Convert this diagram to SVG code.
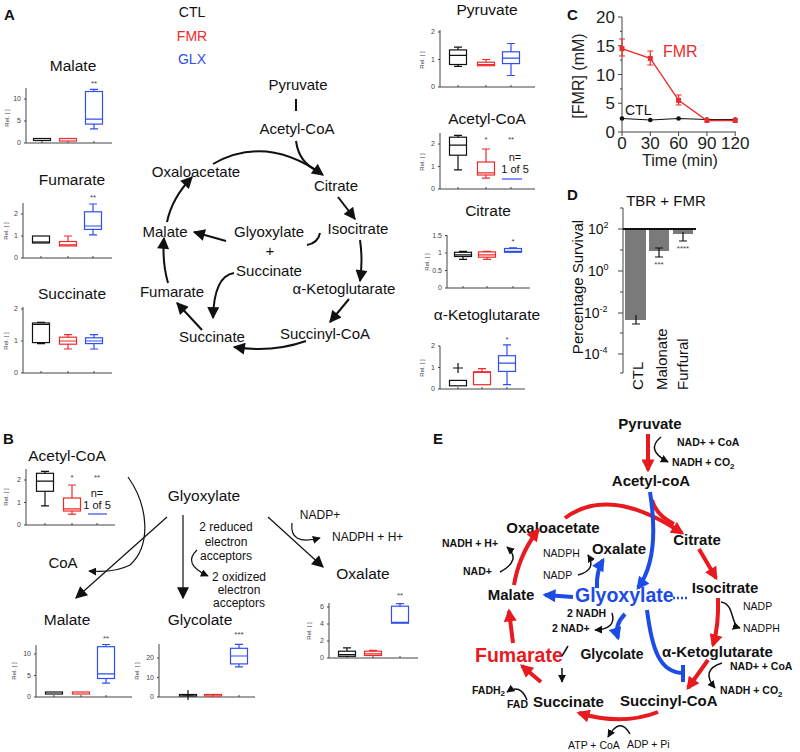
<svg xmlns="http://www.w3.org/2000/svg" width="800" height="752" viewBox="0 0 800 752">
<defs>
<style>
text{font-family:"Liberation Sans",Arial,sans-serif;fill:#111}
.ax{stroke:#444;stroke-width:1;fill:none}
.k{stroke:#111;stroke-width:1.2;fill:none}
.r{stroke:#ee2a2a;stroke-width:1.2;fill:none}
.b{stroke:#2f4ff0;stroke-width:1.2;fill:none}
.tk{font-size:7px;fill:#444;text-anchor:end}
.rel{font-size:6px;fill:#444;text-anchor:middle}
.ttl{font-size:15.5px;text-anchor:middle}
.sig{font-size:8px;fill:#444;text-anchor:middle}
.cyc{font-size:15px;text-anchor:middle}
.lab{font-size:15px;font-weight:bold}
.ca{stroke:#111;stroke-width:2;fill:none}
.tb{stroke:#111;stroke-width:1.2;fill:none}
.er{stroke:#e8191f;stroke-width:4;fill:none}
.eb{stroke:#1d4be6;stroke-width:4;fill:none}
.ek{stroke:#111;stroke-width:1.5;fill:none}
.eT{font-weight:bold;font-size:15px}
.es{font-weight:bold;font-size:10.5px}
.en{font-size:10.5px}
.sm{font-size:12px}
.ct{font-size:17px;fill:#222}
</style>
<marker id="mA" viewBox="0 0 10 10" refX="9" refY="5" markerWidth="13" markerHeight="12" markerUnits="userSpaceOnUse" orient="auto"><path d="M0,0L10,5L0,10z" fill="#111"/></marker>
<marker id="mB" viewBox="0 0 10 10" refX="9" refY="5" markerWidth="14" markerHeight="12" markerUnits="userSpaceOnUse" orient="auto"><path d="M0,0L10,5L0,10z" fill="#111"/></marker>
<marker id="mS" viewBox="0 0 10 10" refX="9" refY="5" markerWidth="8" markerHeight="8" markerUnits="userSpaceOnUse" orient="auto"><path d="M0,0L10,5L0,10z" fill="#111"/></marker>
<marker id="mR" viewBox="0 0 10 10" refX="8" refY="5" markerWidth="14" markerHeight="13" markerUnits="userSpaceOnUse" orient="auto"><path d="M0,0L10,5L0,10z" fill="#e8191f"/></marker>
<marker id="mBl" viewBox="0 0 10 10" refX="8" refY="5" markerWidth="14" markerHeight="13" markerUnits="userSpaceOnUse" orient="auto"><path d="M0,0L10,5L0,10z" fill="#1d4be6"/></marker>
</defs>
<rect width="800" height="752" fill="#fff"/>

<!-- Panel labels -->
<text x="4" y="20" class="lab">A</text>
<text x="3" y="444" class="lab">B</text>
<text x="567" y="20" class="lab">C</text>
<text x="567" y="200" class="lab">D</text>
<text x="433" y="444" class="lab">E</text>

<!-- Legend -->
<g id="legend" text-anchor="middle">
<text x="192" y="17" style="font-size:14px">CTL</text>
<text x="192" y="41" style="font-size:14px;fill:#ee2a2a">FMR</text>
<text x="192" y="64" style="font-size:14px;fill:#2f4ff0">GLX</text>
</g>

<!-- Panel A left plots -->
<g id="plotA-malate">
<text x="73" y="71" class="ttl">Malate</text>
<path class="ax" d="M26 88V143H112M24 143H26M24 121H26M24 99H26M42 143V141M68 143V141M94 143V141"/>
<text x="21" y="145" class="tk">0</text><text x="21" y="123" class="tk">5</text><text x="21" y="101" class="tk">10</text>
<text class="rel" transform="translate(9,118) rotate(-90)">Rel. [ ]</text>
<rect class="k" x="33.5" y="138.5" width="17" height="2"/>
<rect class="r" x="59.5" y="138.5" width="17" height="2.5"/>
<path class="b" d="M94 89.3V91.5M94 124.1V128.9M90 89.3H98M90 128.9H98M85.5 119.2H102.5"/>
<rect class="b" x="85.5" y="91.5" width="17" height="32.6"/>
<text x="94" y="86" class="sig">**</text>
</g>
<g id="plotA-fumarate">
<text x="72" y="185" class="ttl">Fumarate</text>
<path class="ax" d="M23 203V258H112M21 258H23M21 236H23M21 214H23M41 258V256M68 258V256M93 258V256"/>
<text x="18" y="260" class="tk">0</text><text x="18" y="238" class="tk">1</text><text x="18" y="216" class="tk">2</text>
<text class="rel" transform="translate(8,231) rotate(-90)">Rel. [ ]</text>
<rect class="k" x="32.5" y="236" width="17" height="7"/>
<path class="k" d="M32.5 242H49.5"/>
<path class="r" d="M68 236V241.5M64 236H72M59.5 244.8H76.5"/>
<rect class="r" x="59.5" y="241.5" width="17" height="4.4"/>
<path class="b" d="M93 204V211.8M93 229.4V234.9M89 204H97M89 234.9H97M84.5 226H101.5"/>
<rect class="b" x="84.5" y="211.8" width="17" height="17.6"/>
<text x="93" y="200" class="sig">**</text>
</g>
<g id="plotA-succinate">
<text x="72" y="299" class="ttl">Succinate</text>
<path class="ax" d="M23 307V373H112M21 373H23M21 341H23M21 309H23M41 373V371M68 373V371M94 373V371"/>
<text x="18" y="375" class="tk">0</text><text x="18" y="343" class="tk">1</text><text x="18" y="311" class="tk">2</text>
<text class="rel" transform="translate(8,341) rotate(-90)">Rel. [ ]</text>
<rect class="k" x="32.5" y="323" width="17" height="19.6"/>
<path class="k" d="M32.5 324.5H49.5M37 343.6H45M37 322.4H45"/>
<path class="r" d="M68 334.6V337.2M68 344.2V349M64 334.6H72M64 349H72M59.5 341H76.5"/>
<rect class="r" x="59.5" y="337.2" width="17" height="7"/>
<path class="b" d="M94 334.6V337.8M94 343.6V349M90 334.6H98M90 349H98M85.5 341H102.5"/>
<rect class="b" x="85.5" y="337.8" width="17" height="5.8"/>
</g>

<!-- Panel A right plots -->
<g id="plotA-pyruvate">
<text x="487" y="15" class="ttl">Pyruvate</text>
<path class="ax" d="M440 30V87H535M438 87H440M438 59.5H440M438 32H440M458 87V85M486 87V85M511 87V85"/>
<text x="435" y="89" class="tk">0</text><text x="435" y="61.5" class="tk">1</text><text x="435" y="34" class="tk">2</text>
<text class="rel" transform="translate(424,60) rotate(-90)">Rel. [ ]</text>
<path class="k" d="M458 47.1V49.9M458 64.5V66.4M454 47.1H462M454 66.4H462M449.5 55.4H466.5"/>
<rect class="k" x="449.5" y="49.9" width="17" height="14.6"/>
<path class="r" d="M486 59.5V62.2M482 59.5H490M477.5 64.5H494.5"/>
<rect class="r" x="477.5" y="62.2" width="17" height="3.5"/>
<path class="b" d="M511 43.5V51.8M511 63.6V75.5M507 43.5H515M507 75.5H515M502.5 58.1H519.5"/>
<rect class="b" x="502.5" y="51.8" width="17" height="11.8"/>
</g>
<g id="plotA-acetylcoa">
<text x="487" y="124" class="ttl">Acetyl-CoA</text>
<path class="ax" d="M440 133V189H535M438 189H440M438 166.5H440M438 144H440M458 189V187M486 189V187M511 189V187"/>
<text x="435" y="191" class="tk">0</text><text x="435" y="168.5" class="tk">1</text><text x="435" y="146" class="tk">2</text>
<text class="rel" transform="translate(424,162) rotate(-90)">Rel. [ ]</text>
<path class="k" d="M458 135.4V137.2M458 155.2V169.9M454 135.4H462M454 169.9H462M449.5 145.1H466.5"/>
<rect class="k" x="449.5" y="137.2" width="17" height="18"/>
<path class="r" d="M486 149V162M486 175V178.2M482 149H490M482 178.2H490M477.5 172.8H494.5"/>
<rect class="r" x="477.5" y="162" width="17" height="13"/>
<path class="b" d="M502 179H522"/>
<text x="486" y="142" class="sig">*</text><text x="511" y="142" class="sig">**</text>
<text x="515" y="161" style="font-size:11px" text-anchor="middle">n=</text>
<text x="515" y="173" style="font-size:11px" text-anchor="middle">1 of 5</text>
</g>
<g id="plotA-citrate">
<text x="488" y="216" class="ttl">Citrate</text>
<path class="ax" d="M447 235V288H530M445 288H447M445 270.5H447M445 253H447M445 235.5H447M463 288V286M487 288V286M513 288V286"/>
<text x="442" y="290" class="tk">0</text><text x="442" y="272.5" class="tk">0.5</text><text x="442" y="255" class="tk">1</text><text x="442" y="237.5" class="tk">1.5</text>
<text class="rel" transform="translate(429,262) rotate(-90)">Rel. [ ]</text>
<path class="k" d="M463 251.3V252.3M463 256.5V259.3M459 251.3H467M459 259.3H467M454.5 254.8H471.5"/>
<rect class="k" x="454.5" y="252.3" width="17" height="4.2"/>
<path class="r" d="M487 251.3V251.9M487 257.2V259.3M483 251.3H491M483 259.3H491M478.5 254.8H495.5"/>
<rect class="r" x="478.5" y="251.9" width="17" height="5.3"/>
<path class="b" d="M513 247.8V248.5M509 247.8H517M504.5 251.3H521.5"/>
<rect class="b" x="504.5" y="248.5" width="17" height="3.8"/>
<text x="513" y="244" class="sig">*</text>
</g>
<g id="plotA-akg">
<text x="487" y="320" class="ttl">α-Ketoglutarate</text>
<path class="ax" d="M440 346V389H525M438 389H440M438 367.5H440M438 346H440M458 389V387M482 389V387M507 389V387"/>
<text x="435" y="391" class="tk">0</text><text x="435" y="369.5" class="tk">1</text><text x="435" y="348" class="tk">2</text>
<text class="rel" transform="translate(424,368) rotate(-90)">Rel. [ ]</text>
<rect class="k" x="449.5" y="380.4" width="17" height="5.4"/>
<path class="k" d="M458 363V373M453 368H463"/>
<path class="r" d="M482 368.6V371.8M478 368.6H486M473.5 372.3H490.5"/>
<rect class="r" x="473.5" y="371.8" width="17" height="12.9"/>
<path class="b" d="M507 344.9V355.7M507 371.4V384.7M503 344.9H511M503 384.7H511M498.5 363.2H515.5"/>
<rect class="b" x="498.5" y="355.7" width="17" height="15.7"/>
<text x="507" y="342" class="sig">*</text>
</g>

<!-- Panel A cycle nodes -->
<g id="a-pyruvate"><text x="298" y="90" class="cyc">Pyruvate</text></g>
<g id="a-acetylcoa"><text x="297" y="134" class="cyc">Acetyl-CoA</text></g>
<g id="a-oxaloacetate"><text x="196" y="177" class="cyc">Oxaloacetate</text></g>
<g id="a-citrate"><text x="336" y="191" class="cyc">Citrate</text></g>
<g id="a-isocitrate"><text x="358" y="234" class="cyc">Isocitrate</text></g>
<g id="a-malate"><text x="165" y="237" class="cyc">Malate</text></g>
<g id="a-glyoxylate"><text x="269" y="237" class="cyc">Glyoxylate</text><text x="270" y="256" class="cyc">+</text><text x="269" y="276" class="cyc">Succinate</text></g>
<g id="a-akg"><text x="344" y="294" class="cyc">α-Ketoglutarate</text></g>
<g id="a-fumarate"><text x="172" y="297" class="cyc">Fumarate</text></g>
<g id="a-succinylcoa"><text x="325" y="339" class="cyc">Succinyl-CoA</text></g>
<g id="a-succinate"><text x="212" y="342" class="cyc">Succinate</text></g>

<g id="a-connectors">
<path class="ca" d="M296 99V111"/>
<path class="ca" d="M296 141Q299 163 318 171"/>
<path class="ca" d="M213 164Q266 134 323 175" marker-end="url(#mA)"/>
<path class="ca" d="M338 197L355 219" marker-end="url(#mA)"/>
<path class="ca" d="M360 240Q363 260 360 281" marker-end="url(#mA)"/>
<path class="ca" d="M349 299L330 322" marker-end="url(#mA)"/>
<path class="ca" d="M306 341Q272 353 234 347" marker-end="url(#mA)"/>
<path class="ca" d="M202 330L177 303" marker-end="url(#mA)"/>
<path class="ca" d="M168 283Q162 262 164 238" marker-end="url(#mA)"/>
<path class="ca" d="M167 222Q172 198 192 177" marker-end="url(#mA)"/>
<path class="ca" d="M226 241L194 232" marker-end="url(#mA)"/>
<path class="ca" d="M320 233Q318 243 307 245"/>
<path class="ca" d="M234 273Q214 276 213 318" marker-end="url(#mA)"/>
</g>

<!-- Panel C -->
<g id="panelC">
<path class="ax" d="M622 17V132H736M618 17H622M618 45.75H622M618 74.5H622M618 103.25H622M618 132H622M620 31.4H622M620 60.1H622M620 88.9H622M620 117.6H622M622 132V136M650.3 132V136M678.6 132V136M706.9 132V136M735.2 132V136"/>
<g text-anchor="end"><text x="615" y="23" class="ct">20</text><text x="615" y="52" class="ct">15</text><text x="615" y="80.5" class="ct">10</text><text x="615" y="109" class="ct">5</text><text x="615" y="138" class="ct">0</text></g>
<g text-anchor="middle"><text x="622" y="149" class="ct">0</text><text x="650.3" y="149" class="ct">30</text><text x="678.6" y="149" class="ct">60</text><text x="706.9" y="149" class="ct">90</text><text x="735.2" y="149" class="ct">120</text></g>
<text x="680" y="166" text-anchor="middle" style="font-size:16px;fill:#222">Time (min)</text>
<text transform="translate(584,76) rotate(-90)" text-anchor="middle" style="font-size:16px;fill:#222">[FMR] (mM)</text>
<polyline points="622,118.5 650.3,120 678.6,118.5 706.9,119.5 735.2,119.5" fill="none" stroke="#111" stroke-width="1.2"/>
<g fill="#111"><circle cx="622" cy="118.5" r="2.3"/><circle cx="650.3" cy="120" r="2.3"/><circle cx="678.6" cy="118.5" r="2.3"/><circle cx="706.9" cy="119.5" r="2.3"/><circle cx="735.2" cy="119.5" r="2.3"/></g>
<polyline points="622,48.6 650.3,58.4 678.6,100.4 706.9,120.5 735.2,120.5" fill="none" stroke="#ee2a2a" stroke-width="1.3"/>
<path d="M622 39V56M619 39H625M619 56H625M650.3 51V65M647.3 51H653.3M647.3 65H653.3M678.6 95V105M675.6 95H681.6M675.6 105H681.6" stroke="#ee2a2a" stroke-width="1.2" fill="none"/>
<g fill="#ee2a2a"><rect x="619.5" y="46.1" width="5" height="5"/><rect x="647.8" y="55.9" width="5" height="5"/><rect x="676.1" y="97.9" width="5" height="5"/><rect x="704.4" y="118" width="5" height="5"/><rect x="732.7" y="118" width="5" height="5"/></g>
<text x="663" y="57" style="font-size:16px;fill:#ee2a2a">FMR</text>
<text x="625" y="115" style="font-size:14px">CTL</text>
</g>

<!-- Panel D -->
<g id="panelD">
<text x="666" y="206" text-anchor="middle" style="font-size:15px">TBR + FMR</text>
<path class="ax" d="M623 208V373M618 229H623M618 271H623M618 313H623M618 354H623M620 208H623M620 250H623M620 292H623M620 333H623M620 373H623"/>
<g style="fill:#222">
<text x="588" y="234" style="font-size:14px">10<tspan dy="-6" style="font-size:9px">2</tspan></text>
<text x="588" y="276" style="font-size:14px">10<tspan dy="-6" style="font-size:9px">0</tspan></text>
<text x="584" y="318" style="font-size:14px">10<tspan dy="-6" style="font-size:9px">-2</tspan></text>
<text x="584" y="359" style="font-size:14px">10<tspan dy="-6" style="font-size:9px">-4</tspan></text>
</g>
<text transform="translate(583,287) rotate(-90)" text-anchor="middle" style="font-size:15px">Percentage Survival</text>
<g fill="#7a7a7a"><rect x="625" y="229" width="21" height="91"/><rect x="649" y="229" width="20" height="22"/><rect x="673" y="229" width="20" height="5"/></g>
<path d="M623 229H696" stroke="#111" stroke-width="2"/>
<path d="M636 315V324M632 324H640M659 248V257M655 248H663M655 257H663M683 232V241M679 241H687" stroke="#111" stroke-width="1.2" fill="none"/>
<text x="659" y="267" class="sig">***</text><text x="683" y="251" class="sig">****</text>
<text transform="translate(643,390) rotate(-90)" style="font-size:15px">CTL</text>
<text transform="translate(667,390) rotate(-90)" style="font-size:15px">Malonate</text>
<text transform="translate(688,390) rotate(-90)" style="font-size:15px">Furfural</text>
</g>

<!-- Panel B plots -->
<g id="plotB-acetylcoa">
<text x="67" y="461" class="ttl">Acetyl-CoA</text>
<path class="ax" d="M26 469V525H115M24 525H26M24 502.5H26M24 480H26M45 525V523M72 525V523M97 525V523"/>
<text x="21" y="527" class="tk">0</text><text x="21" y="504.5" class="tk">1</text><text x="21" y="482" class="tk">2</text>
<text class="rel" transform="translate(8,497) rotate(-90)">Rel. [ ]</text>
<path class="k" d="M45 471.4V473.3M45 491.3V505.9M41 471.4H49M41 505.9H49M36.5 481.1H53.5"/>
<rect class="k" x="36.5" y="473.3" width="17" height="18"/>
<path class="r" d="M72 485V498M72 511V514.2M68 485H76M68 514.2H76M63.5 508.8H80.5"/>
<rect class="r" x="63.5" y="498" width="17" height="13"/>
<path class="b" d="M88 514H107"/>
<text x="72" y="480" class="sig">*</text><text x="97" y="480" class="sig">**</text>
<text x="97" y="497" style="font-size:11px" text-anchor="middle">n=</text>
<text x="97" y="509" style="font-size:11px" text-anchor="middle">1 of 5</text>
</g>
<g id="plotB-malate">
<text x="67" y="625" class="ttl">Malate</text>
<path class="ax" d="M36 645V697H132M34 697H36M34 675.5H36M34 654H36M54 697V695M81 697V695M106 697V695"/>
<text x="31" y="699" class="tk">0</text><text x="31" y="677.5" class="tk">5</text><text x="31" y="656" class="tk">10</text>
<text class="rel" transform="translate(16,671) rotate(-90)">Rel. [ ]</text>
<rect class="k" x="45.5" y="692" width="17" height="2"/>
<rect class="r" x="72.5" y="692" width="17" height="2"/>
<path class="b" d="M106 644.5V646.7M106 678.5V683.2M102 644.5H110M102 683.2H110M97.5 673.8H114.5"/>
<rect class="b" x="97.5" y="646.7" width="17" height="31.8"/>
<text x="106" y="641" class="sig">**</text>
</g>
<g id="plotB-glycolate">
<text x="200" y="625" class="ttl">Glycolate</text>
<path class="ax" d="M159 644V697H255M157 697H159M157 677.5H159M157 658H159M188 697V695M213 697V695M239 697V695"/>
<text x="154" y="699" class="tk">0</text><text x="154" y="679.5" class="tk">10</text><text x="154" y="660" class="tk">20</text>
<text class="rel" transform="translate(139,671) rotate(-90)">Rel. [ ]</text>
<rect class="k" x="179.5" y="694.5" width="17" height="1.5"/>
<path class="k" d="M188 690V700M183 695H193"/>
<rect class="r" x="204.5" y="694.5" width="17" height="1.5"/>
<path class="b" d="M239 644.4V648.3M239 663.9V666.8M235 644.4H243M235 666.8H243M230.5 656H247.5"/>
<rect class="b" x="230.5" y="648.3" width="17" height="15.6"/>
<text x="239" y="637" class="sig">***</text>
</g>
<g id="plotB-oxalate">
<text x="363" y="579" class="ttl">Oxalate</text>
<path class="ax" d="M329 603V658H418M327 658H329M327 641H329M327 624H329M327 607H329M347 658V656M373 658V656M400 658V656"/>
<text x="324" y="660" class="tk">0</text><text x="324" y="643" class="tk">2</text><text x="324" y="626" class="tk">4</text><text x="324" y="609" class="tk">6</text>
<text class="rel" transform="translate(311,631) rotate(-90)">Rel. [ ]</text>
<path class="k" d="M347 647.8V651.2M343 647.8H351M338.5 654.6H355.5"/>
<rect class="k" x="338.5" y="651.2" width="17" height="5.1"/>
<path class="r" d="M373 650.4V651.2M369 650.4H377M364.5 653.8H381.5"/>
<rect class="r" x="364.5" y="651.2" width="17" height="4.3"/>
<path class="b" d="M400 603.6V606.2M396 603.6H404M391.5 622.3H408.5"/>
<rect class="b" x="391.5" y="606.2" width="17" height="17"/>
<text x="400" y="598" class="sig">**</text>
</g>

<!-- Panel B nodes -->
<g id="b-glyoxylate"><text x="204" y="501" class="ttl">Glyoxylate</text></g>
<g id="b-coa"><text x="63" y="568" style="font-size:15px" text-anchor="middle">CoA</text></g>
<g id="b-reduced" text-anchor="middle"><text x="226" y="531" class="sm">2 reduced</text><text x="226" y="546" class="sm">electron</text><text x="226" y="560" class="sm">acceptors</text></g>
<g id="b-oxidized" text-anchor="middle"><text x="239" y="581" class="sm">2 oxidized</text><text x="239" y="594" class="sm">electron</text><text x="239" y="607" class="sm">acceptors</text></g>
<g id="b-nadp"><text x="320" y="519" class="sm" text-anchor="middle">NADP+</text><text x="332" y="541" class="sm">NADPH + H+</text></g>

<g id="b-connectors">
<path class="tb" d="M167 517L76 598" marker-end="url(#mB)"/>
<path class="tb" d="M128 477C148 505 152 545 130 565Q115 573 89 571" marker-end="url(#mS)"/>
<path class="tb" d="M183 515V598" marker-end="url(#mB)"/>
<path class="tb" d="M197 550Q182 564 208 576" marker-end="url(#mS)"/>
<path class="tb" d="M268 517L323 567" marker-end="url(#mB)"/>
<path class="tb" d="M292 523Q289 546 320 538" marker-end="url(#mS)"/>
</g>

<!-- Panel E nodes -->
<g id="e-pyruvate"><text x="650" y="429" class="eT" text-anchor="middle">Pyruvate</text></g>
<g id="e-nadcoa1"><text x="677" y="446" class="es">NAD+ + CoA</text><text x="672" y="466" class="es">NADH + CO<tspan dy="3" style="font-size:8px">2</tspan></text></g>
<g id="e-acetylcoa"><text x="651" y="486" class="eT" text-anchor="middle">Acetyl-coA</text></g>
<g id="e-oxaloacetate"><text x="553" y="533" class="eT" text-anchor="middle">Oxaloacetate</text></g>
<g id="e-citrate"><text x="697" y="545" class="eT" text-anchor="middle">Citrate</text></g>
<g id="e-oxalate"><text x="619" y="554" class="eT" text-anchor="middle">Oxalate</text><text x="543" y="557" class="en">NADPH</text><text x="543" y="579" class="en">NADP</text></g>
<g id="e-nadh1"><text x="442" y="547" class="es">NADH + H+</text><text x="463" y="575" class="es">NAD+</text></g>
<g id="e-malate"><text x="511" y="600" class="eT" text-anchor="middle">Malate</text></g>
<g id="e-glyoxylate"><text x="575" y="602" style="font-weight:bold;font-size:19.5px;fill:#1d4be6">Glyoxylate</text></g>
<g id="e-isocitrate"><text x="725" y="593" class="eT" text-anchor="middle">Isocitrate</text><text x="743" y="610" class="en">NADP</text><text x="743" y="632" class="en">NADPH</text></g>
<g id="e-nadh2"><text x="567" y="617" class="es">2 NADH</text><text x="552" y="632" class="es">2 NAD+</text></g>
<g id="e-glycolate"><text x="612" y="659" style="font-weight:bold;font-size:14px" text-anchor="middle">Glycolate</text></g>
<g id="e-akg"><text x="662" y="657" class="eT">α-Ketoglutarate</text><text x="730" y="670" class="es">NAD+ + CoA</text><text x="720" y="694" class="es">NADH + CO<tspan dy="3" style="font-size:8px">2</tspan></text></g>
<g id="e-fumarate"><text x="475" y="662" style="font-weight:bold;font-size:19.5px;fill:#e8191f">Fumarate</text></g>
<g id="e-fad"><text x="472" y="694" class="es">FADH<tspan dy="2" style="font-size:8px">2</tspan></text><text x="507" y="708" class="es">FAD</text></g>
<g id="e-succinate"><text x="533" y="707" class="eT">Succinate</text></g>
<g id="e-succinylcoa"><text x="620" y="706" class="eT">Succinyl-CoA</text></g>
<g id="e-atp"><text x="568" y="749" class="en">ATP + CoA</text><text x="627" y="748" class="en">ADP + Pi</text></g>

<g id="e-connectors">
<path class="er" d="M648 434V470" marker-end="url(#mR)"/>
<path class="ek" d="M661 437Q645 450 668 462" marker-end="url(#mS)"/>
<path class="er" d="M565 518Q610 485 682 533" marker-end="url(#mR)"/>
<path class="er" d="M652 500Q656 515 674 524"/>
<path class="eb" d="M650 492C656 530 655 565 638 588" marker-end="url(#mBl)"/>
<path class="er" d="M699 549L716 578" marker-end="url(#mR)"/>
<path class="er" d="M718 598Q719 625 713 645" marker-end="url(#mR)"/>
<path class="ek" d="M721 602C735 604 730 625 740 628" marker-end="url(#mS)"/>
<path class="er" d="M708 660L688 688" marker-end="url(#mR)"/>
<path class="ek" d="M722 663Q700 670 715 688" marker-end="url(#mS)"/>
<path class="eb" d="M647 610C652 650 660 672 682 673M683 665V682"/>
<path class="er" d="M658 712Q622 726 579 713" marker-end="url(#mR)"/>
<path class="ek" d="M630 734Q620 716 608 737" marker-end="url(#mS)"/>
<path class="er" d="M541 682L522 666" marker-end="url(#mR)"/>
<path class="ek" d="M527 700Q520 683 507 692" marker-end="url(#mS)"/>
<path class="er" d="M513 643L509 611" marker-end="url(#mR)"/>
<path class="er" d="M514 585Q519 555 538 530" marker-end="url(#mR)"/>
<path class="ek" d="M500 572Q522 560 507 547" marker-end="url(#mS)"/>
<path class="eb" d="M573 597L545 595" marker-end="url(#mBl)"/>
<path class="eb" d="M597 588Q596 572 603 560" marker-end="url(#mBl)"/>
<path class="ek" d="M578 575Q597 570 588 555" marker-end="url(#mS)"/>
<path class="eb" d="M625 614Q614 625 618 638" marker-end="url(#mBl)"/>
<path class="ek" d="M612 613Q617 629 595 630" marker-end="url(#mS)"/>
<path d="M673 598H689" stroke="#1d4be6" stroke-width="2.5" stroke-dasharray="2,2" fill="none"/>
<path class="ek" d="M568 646L562 656"/>
<path class="ek" d="M562 668V682" marker-end="url(#mS)"/>
</g>
</svg>
